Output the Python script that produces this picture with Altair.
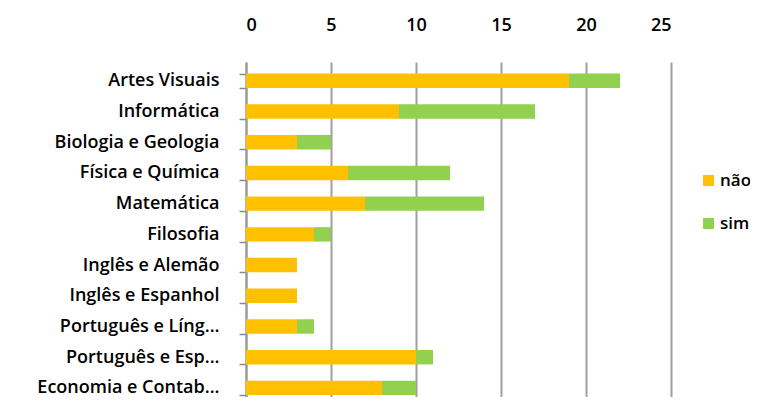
import altair as alt
import pandas as pd

categories = ["Artes Visuais", "Informática", "Biologia e Geologia", "Física e Química",
              "Matemática", "Filosofia", "Inglês e Alemão", "Inglês e Espanhol",
              "Português e Líng...", "Português e Esp...", "Economia e Contab..."]
nao = [19, 9, 3, 6, 7, 4, 3, 3, 3, 10, 8]
sim = [3, 8, 2, 6, 7, 1, 0, 0, 1, 1, 2]
series = ["não", "sim"]
colors = ["#FFC000", "#92D050"]
x_ticks = [0, 5, 10, 15, 20, 25]

rows = []
for c, n, s in zip(categories, nao, sim):
    rows.append({"cat": c, "serie": "não", "v": n, "o": 0})
    rows.append({"cat": c, "serie": "sim", "v": s, "o": 1})
df = pd.DataFrame(rows)

FONT = "Open Sans"
FS = 18
FW = 600

chart = alt.Chart(df).mark_bar(cornerRadius=0).encode(
    y=alt.Y("cat:N", sort=categories, title=None,
            scale=alt.Scale(paddingInner=0.53, paddingOuter=0.22, align=0.86),
            axis=alt.Axis(labelFont=FONT, labelFontSize=FS, labelFontWeight=FW,
                          labelColor="#000000",
                          labelPadding=20, tickSize=7, tickColor="#888888", tickWidth=1.5,
                          tickBand="extent", domainColor="#999999", domainWidth=2,
                          labelLimit=235)),
    x=alt.X("v:Q", stack="zero", title=None,
            scale=alt.Scale(domain=[0, 25], nice=False),
            axis=alt.Axis(orient="top", values=x_ticks, labelFont=FONT, labelFontSize=FS,
                          labelFontWeight=FW,
                          labelColor="#000000", labelPadding=28, tickSize=0, domain=False,
                          grid=True, gridColor="#A0A0A0", gridWidth=2)),
    color=alt.Color("serie:N", scale=alt.Scale(domain=series, range=colors),
                    legend=alt.Legend(title=None, orient="none", legendX=454, legendY=110,
                                      symbolType="square", symbolSize=121,
                                      symbolStrokeWidth=0, labelOffset=3,
                                      labelFont=FONT, labelFontSize=17, labelFontWeight=FW,
                                      rowPadding=25, labelColor="#000000")),
    order=alt.Order("o:Q"),
).properties(
    width=425, height=335,
    autosize=alt.AutoSizeParams(type="none"),
    padding={"left": 238, "top": 54, "right": 79, "bottom": 0},
).configure_view(stroke=None)

chart.save("out.html", embed_options={"renderer": "svg", "actions": False})
